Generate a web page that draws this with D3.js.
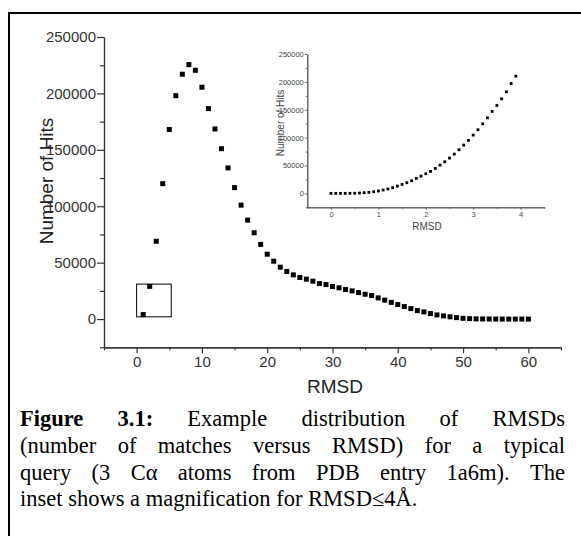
<!DOCTYPE html>
<html>
<head>
<meta charset="utf-8">
<script src="https://cdn.jsdelivr.net/npm/d3@7"></script>
<style>
  body { margin: 0; background: #fff; }
  svg { display: block; }
</style>
</head>
<body>
<div id="chart"></div>
<script>

// main plot: number of hits per RMSD bin
var rmsd = [1, 2, 3, 4, 5, 6, 7, 8, 9, 10, 11, 12, 13, 14, 15, 16, 17, 18, 19, 20,
            21, 22, 23, 24, 25, 26, 27, 28, 29, 30, 31, 32, 33, 34, 35, 36, 37, 38, 39, 40,
            41, 42, 43, 44, 45, 46, 47, 48, 49, 50, 51, 52, 53, 54, 55, 56, 57, 58, 59, 60];
var hits = [4000, 29000, 69000, 120000, 168000, 198000, 217000, 225500, 220500, 205500,
            186500, 168500, 151000, 134000, 116500, 101000, 87700, 76500, 66200, 57500,
            51300, 46000, 42200, 39200, 36900, 35400, 33600, 31500, 30600, 28900,
            27700, 26200, 25000, 23500, 22000, 20900, 18800, 16800, 14800, 12900,
            11100, 9300, 7500, 6400, 4900, 3700, 2800, 2000, 1300, 700,
            400, 200, 100, 50, 30, 20, 10, 10, 0, 0];

// inset: hits for RMSD <= 4
var insetRmsd = [0, 0.1, 0.2, 0.3, 0.4, 0.5, 0.6, 0.7, 0.8, 0.9, 1.0, 1.1, 1.2, 1.3,
                 1.4, 1.5, 1.6, 1.7, 1.8, 1.9, 2.0, 2.1, 2.2, 2.3, 2.4, 2.5, 2.6, 2.7,
                 2.8, 2.9, 3.0, 3.1, 3.2, 3.3, 3.4, 3.5, 3.6, 3.7, 3.8, 3.9];
var insetHits = [0, 0, 0, 0, 100, 200, 600, 1200, 1800, 3000, 4200, 6000, 7800, 10200,
                 13100, 16100, 19100, 22700, 26900, 31000, 35200, 39400, 44800, 50700,
                 56700, 63300, 70400, 78200, 86600, 95000, 104500, 114100, 124800,
                 135600, 147000, 157700, 169600, 182200, 197100, 210200];

// magnified region marked on main plot
var boxX = [0, 5.3];
var boxY = [2000, 31000];

var xTicks = [0, 10, 20, 30, 40, 50, 60];
var xMinor = [-5, 5, 15, 25, 35, 45, 55, 65];
var yTicks = [0, 50000, 100000, 150000, 200000, 250000];
var yMinor = [-25000, 25000, 75000, 125000, 175000, 225000];
var insetXTicks = [0, 1, 2, 3, 4];
var insetXMinor = [-0.5, 0.5, 1.5, 2.5, 3.5, 4.5];

var captionLines = [
    [["Figure", true], ["3.1:", true], ["Example", false], ["distribution", false], ["of", false], ["RMSDs", false]],
    [["(number", false], ["of", false], ["matches", false], ["versus", false], ["RMSD)", false], ["for", false], ["a", false], ["typical", false]],
    [["query", false], ["(3", false], ["C\u03b1", false], ["atoms", false], ["from", false], ["PDB", false], ["entry", false], ["1a6m).", false], ["The", false]],
    [["inset", false], ["shows", false], ["a", false], ["magnification", false], ["for", false], ["RMSD\u22644\u00c5.", false]]
];

var W = 581, H = 536;

var svg = d3.select("#chart")
    .append("svg")
    .attr("width", W)
    .attr("height", H);

// outer frame
svg.append("rect")
    .attr("x", 9)
    .attr("y", 13)
    .attr("width", 600)
    .attr("height", 600)
    .attr("fill", "none")
    .attr("stroke", "#000")
    .attr("stroke-width", 2);

// ---------- main chart ----------
var x = d3.scaleLinear().domain([-5, 65]).range([104, 561]);
var y = d3.scaleLinear().domain([-25000, 250000]).range([347.3, 37]);

var axisColor = "#333";
var font = "'Liberation Sans', Arial, sans-serif";

var gx = svg.append("g")
    .attr("transform", "translate(0," + y(-25000) + ")")
    .call(d3.axisBottom(x).tickValues(xTicks).tickSize(6).tickSizeOuter(0).tickPadding(3));
gx.append("g")
    .call(d3.axisBottom(x).tickValues(xMinor).tickSize(3).tickSizeOuter(0).tickFormat(""));

var gy = svg.append("g")
    .attr("transform", "translate(" + x(-5) + ",0)")
    .call(d3.axisLeft(y).tickValues(yTicks).tickSize(7).tickSizeOuter(0).tickPadding(1).tickFormat(d3.format("d")));
gy.append("g")
    .call(d3.axisLeft(y).tickValues(yMinor).tickSize(4).tickSizeOuter(0).tickFormat(""));

[gx, gy].forEach(function(g) {
    g.selectAll("path, line").attr("stroke", axisColor).attr("stroke-width", 1.2);
    g.selectAll("text")
        .attr("fill", "#333")
        .style("font-family", font)
        .style("font-size", "15px");
});

svg.append("text")
    .attr("x", 335)
    .attr("y", 393)
    .attr("text-anchor", "middle")
    .style("font-family", font)
    .style("font-size", "19px")
    .attr("fill", "#222")
    .text("RMSD");

svg.append("text")
    .attr("transform", "translate(53,181) rotate(-90)")
    .attr("text-anchor", "middle")
    .style("font-family", font)
    .style("font-size", "19px")
    .attr("fill", "#222")
    .text("Number of Hits");

var pts = rmsd.map(function(d, i) { return {x: d, y: hits[i]}; });

svg.append("g").selectAll("rect")
    .data(pts)
    .enter()
    .append("rect")
    .attr("x", function(d) { return x(d.x) - 2.5; })
    .attr("y", function(d) { return y(d.y) - 2.5; })
    .attr("width", 5)
    .attr("height", 5)
    .attr("fill", "#000");

svg.append("rect")
    .attr("x", x(boxX[0]))
    .attr("y", y(boxY[1]))
    .attr("width", x(boxX[1]) - x(boxX[0]))
    .attr("height", y(boxY[0]) - y(boxY[1]))
    .attr("fill", "none")
    .attr("stroke", "#000")
    .attr("stroke-width", 1);

// ---------- inset ----------
var xi = d3.scaleLinear().domain([-0.5, 4.5]).range([307.3, 544.3]);
var yi = d3.scaleLinear().domain([-25000, 250000]).range([207.3, 54]);

var ix = svg.append("g")
    .attr("transform", "translate(0," + yi(-25000) + ")")
    .call(d3.axisBottom(xi).tickValues(insetXTicks).tickSize(2.5).tickSizeOuter(0).tickPadding(2).tickFormat(d3.format("d")));
ix.append("g")
    .call(d3.axisBottom(xi).tickValues(insetXMinor).tickSize(1.5).tickSizeOuter(0).tickFormat(""));

var iy = svg.append("g")
    .attr("transform", "translate(" + xi(-0.5) + ",0)")
    .call(d3.axisLeft(yi).tickValues(yTicks).tickSize(2.5).tickSizeOuter(0).tickPadding(1).tickFormat(d3.format("d")));
iy.append("g")
    .call(d3.axisLeft(yi).tickValues(yMinor).tickSize(1.5).tickSizeOuter(0).tickFormat(""));

[ix, iy].forEach(function(g) {
    g.selectAll("path, line").attr("stroke", "#555").attr("stroke-width", 0.9);
    g.selectAll("text")
        .attr("fill", "#444")
        .style("font-family", font)
        .style("font-size", "7.5px");
});

svg.append("text")
    .attr("x", 427)
    .attr("y", 230)
    .attr("text-anchor", "middle")
    .style("font-family", font)
    .style("font-size", "10px")
    .attr("fill", "#444")
    .text("RMSD");

svg.append("text")
    .attr("transform", "translate(283.5,123) rotate(-90)")
    .attr("text-anchor", "middle")
    .style("font-family", font)
    .style("font-size", "10px")
    .attr("fill", "#444")
    .text("Number of Hits");

var ipts = insetRmsd.map(function(d, i) { return {x: d, y: insetHits[i]}; });

svg.append("g").selectAll("rect")
    .data(ipts)
    .enter()
    .append("rect")
    .attr("x", function(d) { return xi(d.x) - 1.4; })
    .attr("y", function(d) { return yi(d.y) - 1.4; })
    .attr("width", 2.8)
    .attr("height", 2.8)
    .attr("fill", "#000");

// ---------- caption (justified) ----------
var capLeft = 20, capRight = 565, capSize = 22.5;
var baselines = [426, 453, 479.5, 506];

captionLines.forEach(function(words, li) {
    var g = svg.append("g");
    var nodes = words.map(function(w) {
        return g.append("text")
            .attr("y", baselines[li])
            .style("font-family", "'Liberation Serif', 'Times New Roman', serif")
            .style("font-size", capSize + "px")
            .style("font-weight", w[1] ? "bold" : "normal")
            .attr("fill", "#000")
            .text(w[0]);
    });
    var widths = nodes.map(function(n) { return n.node().getComputedTextLength(); });
    var total = d3.sum(widths);
    var gap = li < captionLines.length - 1
        ? (capRight - capLeft - total) / (words.length - 1)
        : capSize * 0.25;
    var cx = capLeft;
    nodes.forEach(function(n, i) {
        n.attr("x", cx);
        cx += widths[i] + gap;
    });
});

</script>
</body>
</html>
